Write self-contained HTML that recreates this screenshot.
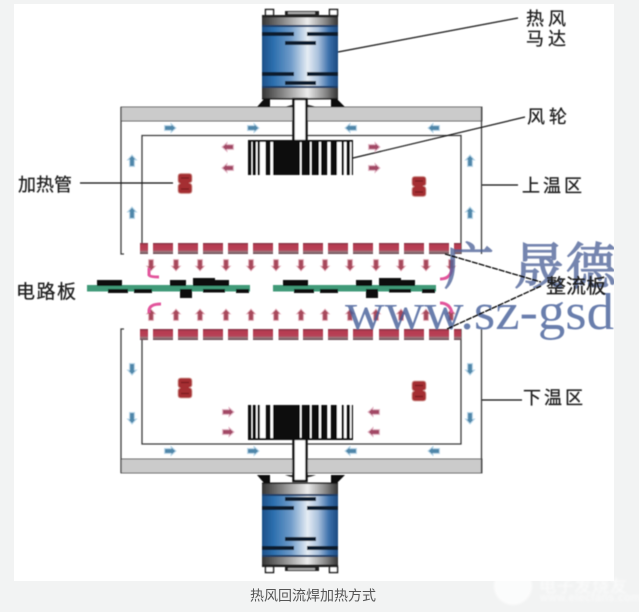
<!DOCTYPE html>
<html lang="zh">
<head>
<meta charset="utf-8">
<title>热风回流焊加热方式</title>
<style>
html,body{margin:0;padding:0;background:#f2f3f3}
body{width:639px;height:612px;overflow:hidden}
svg{display:block}
text{font-family:"Liberation Sans","Noto Sans CJK SC",sans-serif;fill:#1c1c1c}
.lab{stroke:#1c1c1c;stroke-width:.25}
.wm{font-family:"Liberation Serif","Noto Serif CJK SC",serif;fill:#4f6499;stroke:#4f6499;stroke-width:1.3}
</style>
</head>
<body>
<svg width="639" height="612" viewBox="0 0 639 612" xmlns="http://www.w3.org/2000/svg">
<defs>
<linearGradient id="blue" x1="0" x2="1" y1="0" y2="0">
<stop offset="0" stop-color="#1d4f88"/><stop offset=".15" stop-color="#2c6fae"/><stop offset=".38" stop-color="#6f9bc9"/><stop offset=".6" stop-color="#e6edf4"/><stop offset=".74" stop-color="#a9c0dc"/><stop offset=".88" stop-color="#3c70ab"/><stop offset="1" stop-color="#1c4a80"/>
</linearGradient>
<linearGradient id="steel" x1="0" x2="1" y1="0" y2="0">
<stop offset="0" stop-color="#333"/><stop offset=".3" stop-color="#8f8f8f"/><stop offset=".6" stop-color="#ececec"/><stop offset=".85" stop-color="#808080"/><stop offset="1" stop-color="#333"/>
</linearGradient>
<linearGradient id="baf" x1="0" x2="0" y1="0" y2="1">
<stop offset="0" stop-color="#7b3345"/><stop offset=".2" stop-color="#b63a50"/><stop offset=".62" stop-color="#b84256"/><stop offset=".8" stop-color="#9c7a80"/><stop offset="1" stop-color="#5e4048"/>
</linearGradient>
<filter id="soft" x="-5%" y="-5%" width="110%" height="110%"><feGaussianBlur stdDeviation="0.5"/></filter>
<filter id="soft2" x="-60%" y="-60%" width="220%" height="220%"><feGaussianBlur stdDeviation="1"/></filter>

<g id="motor">
<rect x="265.500" y="9.500" width="8" height="6" fill="#fff" stroke="#111" stroke-width="1.500"/>
<rect x="329.500" y="9.500" width="8" height="6" fill="#fff" stroke="#111" stroke-width="1.500"/>
<rect x="285" y="11" width="34" height="5" fill="#222"/><rect x="288" y="12" width="27" height="2" fill="#aaa"/>
<rect x="262" y="15" width="76" height="84" fill="url(#blue)"/>
<rect x="262" y="15" width="76" height="10" fill="url(#steel)"/>
<rect x="262" y="15" width="76" height="2.500" fill="#222"/>
<rect x="262" y="88" width="76" height="10" fill="url(#steel)"/>
<rect x="262" y="98" width="76" height="1.500" fill="#222"/>
<rect x="262" y="25" width="76" height="2" fill="#1a3c66"/>
<rect x="262" y="86" width="76" height="2" fill="#1a3c66"/>
<rect x="262" y="32" width="32" height="4" fill="#0e1b2e"/><rect x="307" y="32" width="31" height="4" fill="#0e1b2e"/>
<rect x="285" y="41" width="31" height="4" fill="#0e1b2e"/>
<rect x="262" y="72" width="32" height="4" fill="#0e1b2e"/><rect x="307" y="72" width="31" height="4" fill="#0e1b2e"/>
<rect x="285" y="81" width="31" height="4" fill="#0e1b2e"/>
<path d="M257 107L264 99H270V107ZM345 107L337 99H331V107Z" fill="#111"/>
<path d="M285 107Q300 101 316 107Z" fill="#333"/>
</g>

<g id="fan">
<rect x="248" y="140" width="105" height="35" fill="#0a0a0a"/>
<g fill="#fff">
<rect x="251.500" y="142" width="1" height="33"/><rect x="256" y="142" width="1.500" height="33"/>
<rect x="260" y="142" width="5.500" height="33"/><rect x="270.500" y="142" width="2.500" height="33"/>
<rect x="300" y="142" width="1.500" height="33"/><rect x="310" y="142" width="1.500" height="33"/>
<rect x="319" y="142" width="2" height="33"/><rect x="327.500" y="142" width="3" height="33"/>
<rect x="337" y="142" width="4.500" height="33"/><rect x="344" y="142" width="2.500" height="33"/>
<rect x="350" y="142" width="1.500" height="33"/>
</g>
<rect x="293.500" y="99" width="13" height="42" fill="#fff" stroke="#111" stroke-width="2.400"/>
</g>

<path id="ah" d="M0 -6L-4.500 -1H-2.500V5.500H2.500V-1H4.500Z"/>
<g id="heat">
<path d="M-4 -10H4Q7 -10 7 -7V-3Q7 -1 4 -.5Q7 0 7 3V7Q7 10 4 10H-4Q-7 10 -7 7V3Q-7 1 -5 0Q-7 -1 -7 -3V-7Q-7 -10 -4 -10Z" fill="#a52f30" stroke="#d69a96" stroke-width=".8"/>
<path d="M-4 -5.500H4M-4 5.500H4" stroke="#7c1f22" stroke-width="1.200"/>
</g>
<g id="baffles" fill="url(#baf)">
<rect x="140" width="8" height="11"/>
<rect x="153" width="20" height="11"/><rect x="178" width="20" height="11"/><rect x="203" width="20" height="11"/><rect x="228" width="20" height="11"/><rect x="253" width="20" height="11"/><rect x="278.500" width="20" height="11"/><rect x="303" width="20" height="11"/><rect x="328" width="20" height="11"/><rect x="353" width="20" height="11"/><rect x="379" width="20" height="11"/><rect x="404" width="20" height="11"/><rect x="429" width="20" height="11"/><rect x="454" width="7" height="11"/>
</g>
<g id="flow" fill="#a8485c" stroke="#eab6c2" stroke-width=".8">
<use href="#ah" x="151"/><use href="#ah" x="176"/><use href="#ah" x="200"/><use href="#ah" x="226"/><use href="#ah" x="251"/><use href="#ah" x="276"/><use href="#ah" x="301"/><use href="#ah" x="325"/><use href="#ah" x="350"/><use href="#ah" x="376"/><use href="#ah" x="401"/><use href="#ah" x="426"/><use href="#ah" x="451"/>
</g>
<g id="pcb">
<rect x="87" y="285" width="163" height="6.500" fill="#3f9a78"/>
<g fill="#080808">
<rect x="97" y="280" width="25" height="6"/><rect x="108" y="289" width="20" height="4"/>
<rect x="134" y="289" width="18" height="4"/><rect x="170" y="280" width="16" height="6"/>
<rect x="193" y="278" width="22" height="8"/><rect x="215" y="280" width="14" height="6"/>
<rect x="180" y="289" width="12" height="9"/><rect x="203" y="289" width="22" height="3.500"/>
<rect x="236" y="289" width="13" height="4"/>
</g>
</g>
</defs>

<rect x="14" y="4" width="600" height="577" fill="#fff"/>

<g filter="url(#soft)">
<!-- plates -->
<rect x="121" y="107" width="361" height="14" fill="#cbcbcb" stroke="#666" stroke-width="1"/>
<rect x="121" y="459" width="361" height="14" fill="#cbcbcb" stroke="#666" stroke-width="1"/>

<!-- ducts -->
<g fill="none" stroke="#3a3a3a" stroke-width="1.300">
<path d="M124 254H121V107M481.500 107V254"/>
<path d="M142 254V135.500H461V254"/>
<path d="M124 329H121V473M481.500 473V329"/>
<path d="M142 329V444H461V329"/>
</g>

<!-- motors and fans -->
<use href="#motor"/>
<use href="#motor" transform="translate(0,582) scale(1,-1)"/>
<use href="#fan"/>
<use href="#fan" transform="translate(0,580) scale(1,-1)"/>

<!-- air flow -->
<g fill="#4f87aa" stroke="#bcd9ea" stroke-width="1">
<use href="#ah" transform="translate(170,128) rotate(90)"/>
<use href="#ah" transform="translate(253,128) rotate(90)"/>
<use href="#ah" transform="translate(351,128) rotate(-90)"/>
<use href="#ah" transform="translate(434,128) rotate(-90)"/>
<use href="#ah" transform="translate(132,161)"/>
<use href="#ah" transform="translate(132,213)"/>
<use href="#ah" transform="translate(470,161)"/>
<use href="#ah" transform="translate(470,213)"/>
<use href="#ah" transform="translate(170,451) rotate(90)"/>
<use href="#ah" transform="translate(253,451) rotate(90)"/>
<use href="#ah" transform="translate(351,451) rotate(-90)"/>
<use href="#ah" transform="translate(434,451) rotate(-90)"/>
<use href="#ah" transform="translate(132,369) rotate(180)"/>
<use href="#ah" transform="translate(132,418) rotate(180)"/>
<use href="#ah" transform="translate(470,369) rotate(180)"/>
<use href="#ah" transform="translate(470,418) rotate(180)"/>
</g>
<g fill="#a34a66" stroke="#e6bccb" stroke-width="1">
<use href="#ah" transform="translate(228,147) rotate(-90)"/>
<use href="#ah" transform="translate(228,168) rotate(-90)"/>
<use href="#ah" transform="translate(374,147) rotate(90)"/>
<use href="#ah" transform="translate(374,168) rotate(90)"/>
<use href="#ah" transform="translate(228,412) rotate(90)"/>
<use href="#ah" transform="translate(228,432) rotate(90)"/>
<use href="#ah" transform="translate(374,412) rotate(-90)"/>
<use href="#ah" transform="translate(374,432) rotate(-90)"/>
</g>

<!-- heaters -->
<use href="#heat" x="185" y="183.500"/>
<use href="#heat" x="419" y="186.500"/>
<use href="#heat" x="185" y="388"/>
<use href="#heat" x="419" y="391"/>

<!-- baffles -->
<use href="#baffles" y="243"/>
<use href="#baffles" y="329"/>
<use href="#flow" transform="translate(0,265) scale(1,-1)"/>
<use href="#flow" y="315"/>

<!-- hooks -->
<g fill="none" stroke="#e2559b" stroke-width="3">
<path d="M149 268V275Q150 277 159 277"/>
<path d="M161 304Q150 304 149 310V313"/>
<path d="M452 268Q451 279 440 279"/>
<path d="M440 303Q450 303 452 313"/>
</g>

<!-- boards -->
<use href="#pcb"/>
<use href="#pcb" x="186"/>

<!-- leaders -->
<g stroke="#111" stroke-width="1.200" fill="none">
<path d="M338 52L518 18"/>
<path d="M353 158L525 117"/>
<path d="M482 185H518"/>
<path d="M482 400H522"/>
<path d="M80 183H173"/>
</g>
</g>

<!-- watermark -->
<g opacity=".78" filter="url(#soft)">
<text x="444" y="284" font-size="50" class="wm">广</text>
<text x="514" y="284" font-size="50" class="wm">晟</text>
<text x="566" y="284" font-size="50" class="wm">德</text>
<text x="345" y="329" font-size="52" textLength="269" lengthAdjust="spacingAndGlyphs" style="font-family:'Liberation Serif',serif;fill:#3f5a96">www.sz-gsd</text>
</g>
<rect x="614" y="240" width="25" height="110" fill="#f2f3f3"/>

<g filter="url(#soft)">
<path d="M445 254L541 282M447 329L541 286" stroke="#000" stroke-width="1.300" stroke-dasharray="6 1" fill="none"/>
<text class="lab" x="526" y="25" font-size="18" letter-spacing="4">热风</text>
<text class="lab" x="526" y="45" font-size="18" letter-spacing="4">马达</text>
<text class="lab" x="527" y="123" font-size="18" letter-spacing="4">风轮</text>
<text class="lab" x="522" y="192" font-size="18" letter-spacing="3">上温区</text>
<text class="lab" x="523" y="404" font-size="18" letter-spacing="3">下温区</text>
<text class="lab" x="18" y="191" font-size="18">加热管</text>
<text class="lab" x="16" y="298" font-size="19" letter-spacing="1.500">电路板</text>
<text class="lab" x="546" y="293" font-size="20">整流板</text>
</g>

<!-- footer -->
<text x="250" y="600.500" font-size="14" style="fill:#555">热风回流焊加热方式</text>
<g filter="url(#soft2)" opacity=".75">
<circle cx="513" cy="586" r="19" fill="#fff"/>
<text x="539" y="592" font-size="17" letter-spacing=".7" style="fill:#fff">电子发烧友</text>
<text x="540" y="601" font-size="11" letter-spacing=".6" style="fill:#fff">www.elecfans.com</text>
</g>
</svg>
</body>
</html>
